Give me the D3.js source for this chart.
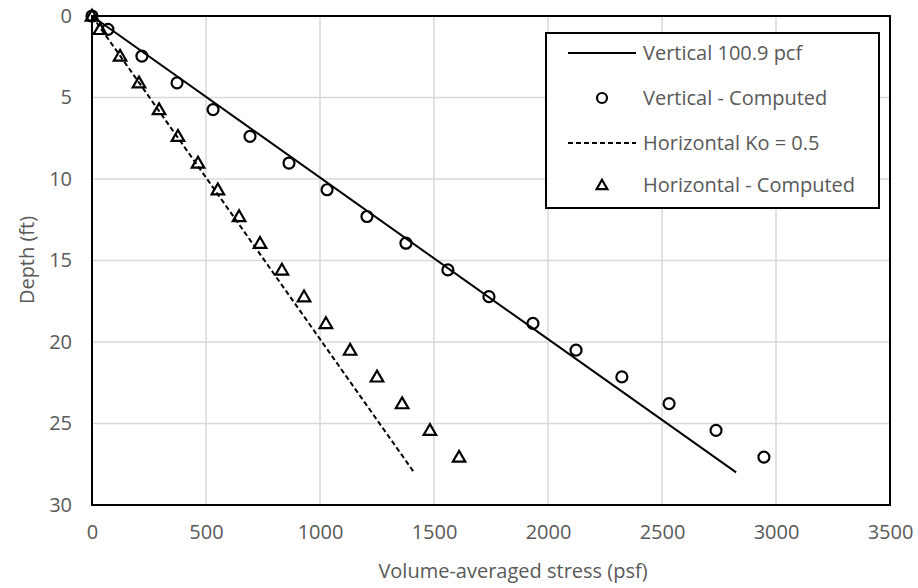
<!DOCTYPE html>
<html>
<head>
<meta charset="utf-8">
<script src="https://cdn.jsdelivr.net/npm/d3@7"></script>
<style>
  html, body { margin: 0; padding: 0; background: #fff; }
  svg text { font-family: "Open Sans", "Noto Sans", sans-serif; fill: #595959; }
</style>
</head>
<body>
<svg id="chart" width="918" height="588"></svg>
<script>
// Unit weight and earth pressure coefficient for the theoretical lines
const unitWeight = 100.9;   // pcf
const ko = 0.5;
const lineDepths = [0, 28];

// Computed stresses from the model (psf) at each depth (ft)
const computedDepths = [0, 0.82, 2.46, 4.10, 5.74, 7.38, 9.02, 10.66, 12.30, 13.94, 15.58, 17.22, 18.86, 20.50, 22.14, 23.78, 25.42, 27.06];
const verticalComputed = [0, 70, 219, 373, 531, 693, 864, 1031, 1206, 1377, 1561, 1741, 1934, 2123, 2324, 2531, 2737, 2947];
const horizontalComputed = [0, 35, 123, 206, 294, 377, 465, 552, 645, 737, 833, 930, 1026, 1132, 1250, 1360, 1482, 1610];

const xTicks = [0, 500, 1000, 1500, 2000, 2500, 3000, 3500];
const yTicks = [0, 5, 10, 15, 20, 25, 30];

const legendLabels = ["Vertical 100.9 pcf", "Vertical - Computed", "Horizontal Ko = 0.5", "Horizontal - Computed"];

const svg = d3.select("#chart");
const plot = { left: 92, right: 890, top: 16, bottom: 505 };

const x = d3.scaleLinear().domain([0, 3500]).range([plot.left, plot.right]);
const y = d3.scaleLinear().domain([0, 30]).range([plot.top, plot.bottom]);

// Gridlines
svg.append("g").selectAll("line.vg").data(xTicks).join("line")
  .attr("x1", d => x(d)).attr("x2", d => x(d))
  .attr("y1", plot.top).attr("y2", plot.bottom)
  .attr("stroke", "#d9d9d9").attr("stroke-width", 1.5);
svg.append("g").selectAll("line.hg").data(yTicks).join("line")
  .attr("y1", d => y(d)).attr("y2", d => y(d))
  .attr("x1", plot.left).attr("x2", plot.right)
  .attr("stroke", "#d9d9d9").attr("stroke-width", 1.5);

// Axes (labels only; the frame is drawn separately)
const xAxis = svg.append("g")
  .attr("transform", `translate(0,${plot.bottom})`)
  .call(d3.axisBottom(x).tickValues(xTicks).tickSize(0).tickPadding(20).tickFormat(d3.format("d")));
const yAxis = svg.append("g")
  .attr("transform", `translate(${plot.left},0)`)
  .call(d3.axisLeft(y).tickValues(yTicks).tickSize(0).tickPadding(20).tickFormat(d3.format("d")));
[xAxis, yAxis].forEach(a => {
  a.select(".domain").remove();
  a.selectAll("text").attr("font-size", 20).attr("fill", "#595959")
    .style("font-family", '"Open Sans", sans-serif');
});

// Theoretical lines
const vLine = d3.line().x(d => x(unitWeight * d)).y(d => y(d));
const hLine = d3.line().x(d => x(ko * unitWeight * d)).y(d => y(d));
svg.append("path").attr("d", vLine(lineDepths))
  .attr("fill", "none").attr("stroke", "#000").attr("stroke-width", 2);
svg.append("path").attr("d", hLine(lineDepths))
  .attr("fill", "none").attr("stroke", "#000").attr("stroke-width", 2)
  .attr("stroke-dasharray", "5,3");

// Computed points
const tri = d3.symbol().type(d3.symbolTriangle).size(68);
svg.append("g").selectAll("path").data(computedDepths).join("path")
  .attr("d", tri)
  .attr("transform", (d, i) => `translate(${x(horizontalComputed[i])},${y(d) + 1})`)
  .attr("fill", "none").attr("stroke", "#000").attr("stroke-width", 2.2);
svg.append("g").selectAll("circle").data(computedDepths).join("circle")
  .attr("cx", (d, i) => x(verticalComputed[i])).attr("cy", d => y(d))
  .attr("r", 5.5).attr("fill", "none").attr("stroke", "#000").attr("stroke-width", 2.2);

// Plot frame
svg.append("rect")
  .attr("x", plot.left).attr("y", plot.top)
  .attr("width", plot.right - plot.left).attr("height", plot.bottom - plot.top)
  .attr("fill", "none").attr("stroke", "#000").attr("stroke-width", 2);

// Axis titles
svg.append("text")
  .attr("x", 513).attr("y", 578).attr("text-anchor", "middle")
  .attr("font-size", 20).text("Volume-averaged stress (psf)");
svg.append("text")
  .attr("transform", `translate(34,260) rotate(-90)`).attr("text-anchor", "middle")
  .attr("font-size", 20).text("Depth (ft)");

// Legend
const legend = svg.append("g");
legend.append("rect")
  .attr("x", 546).attr("y", 33).attr("width", 333).attr("height", 175)
  .attr("fill", "#fff").attr("stroke", "#000").attr("stroke-width", 2);
const rowY = [53, 98, 143, 185];
legend.append("line").attr("x1", 568).attr("x2", 636).attr("y1", rowY[0]).attr("y2", rowY[0])
  .attr("stroke", "#000").attr("stroke-width", 2);
legend.append("circle").attr("cx", 602).attr("cy", rowY[1]).attr("r", 5)
  .attr("fill", "none").attr("stroke", "#000").attr("stroke-width", 2.2);
legend.append("line").attr("x1", 568).attr("x2", 636).attr("y1", rowY[2]).attr("y2", rowY[2])
  .attr("stroke", "#000").attr("stroke-width", 2).attr("stroke-dasharray", "5,3");
legend.append("path").attr("d", d3.symbol().type(d3.symbolTriangle).size(50))
  .attr("transform", `translate(602,${rowY[3] + 1})`)
  .attr("fill", "none").attr("stroke", "#000").attr("stroke-width", 2.2);
legend.selectAll("text").data(legendLabels).join("text")
  .attr("x", 643).attr("y", (d, i) => rowY[i]).attr("dy", "0.35em")
  .attr("font-size", 20).text(d => d);
</script>
</body>
</html>
